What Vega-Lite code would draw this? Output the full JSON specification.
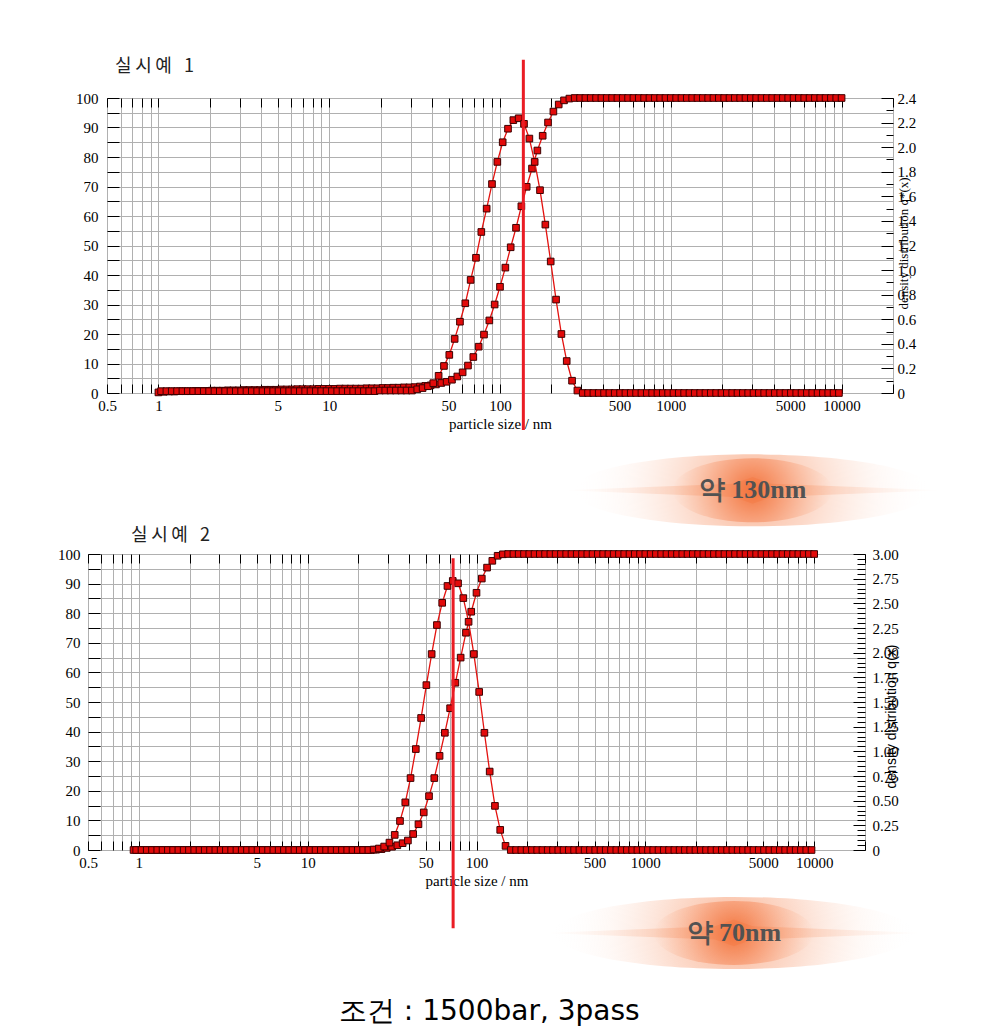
{
"$schema":"https://vega.github.io/schema/vega-lite/v6.json",
"background":"white",
"padding":{"left":55,"top":57,"right":10,"bottom":4},
"spacing":-1,
"config":{
 "view":{"stroke":"black","strokeWidth":1},
 "axis":{"labelFont":"Liberation Serif","labelFontSize":15,"labelColor":"#000","titleFont":"Liberation Serif","titleFontSize":15,"titleFontWeight":"normal","titleColor":"#000","tickColor":"#000","tickWidth":1,"gridColor":"#b0b0b0","gridOpacity":1,"gridWidth":1,"domain":false,"labelOverlap":false,"labelFlush":false,"labelBound":false}
},
"title":{"text":"조건 : 1500bar, 3pass","orient":"bottom","anchor":"middle","font":"DejaVu Sans","fontSize":28,"fontWeight":"normal","color":"#000","offset":29,"dx":-10},
"datasets":{
"c1":[{"x":1,"v":0.2},{"x":1.075,"v":0.4},{"x":1.155,"v":0.5},{"x":1.241,"v":0.5},{"x":1.334,"v":0.6},{"x":1.433,"v":0.6},{"x":1.54,"v":0.6},{"x":1.655,"v":0.7},{"x":1.778,"v":0.7},{"x":1.911,"v":0.7},{"x":2.054,"v":0.8},{"x":2.207,"v":0.8},{"x":2.371,"v":0.8},{"x":2.548,"v":0.9},{"x":2.738,"v":0.9},{"x":2.943,"v":0.9},{"x":3.162,"v":1},{"x":3.398,"v":1},{"x":3.652,"v":1},{"x":3.924,"v":1},{"x":4.217,"v":1.1},{"x":4.532,"v":1.1},{"x":4.87,"v":1.1},{"x":5.233,"v":1.2},{"x":5.623,"v":1.2},{"x":6.043,"v":1.2},{"x":6.494,"v":1.3},{"x":6.978,"v":1.3},{"x":7.499,"v":1.3},{"x":8.058,"v":1.3},{"x":8.66,"v":1.4},{"x":9.306,"v":1.4},
{"x":10,"v":1.4},{"x":10.75,"v":1.4},{"x":11.55,"v":1.5},{"x":12.41,"v":1.5},{"x":13.34,"v":1.5},{"x":14.33,"v":1.5},{"x":15.4,"v":1.5},{"x":16.55,"v":1.6},{"x":17.78,"v":1.6},{"x":19.11,"v":1.6},{"x":20.54,"v":1.7},{"x":22.07,"v":1.7},{"x":23.71,"v":1.8},{"x":25.48,"v":1.8},{"x":27.38,"v":1.9},{"x":29.43,"v":1.9},{"x":31.62,"v":2},{"x":33.98,"v":2.2},{"x":36.52,"v":2.4},{"x":39.24,"v":2.6},{"x":42.17,"v":2.9},{"x":45.32,"v":3.4},{"x":48.7,"v":3.8},{"x":52.33,"v":4.5},{"x":56.23,"v":5.6},{"x":60.43,"v":7},{"x":64.94,"v":9.3},{"x":69.78,"v":12.2},{"x":74.99,"v":15.7},{"x":80.58,"v":19.8},{"x":86.6,"v":24.6},{"x":93.06,"v":30},
{"x":100,"v":36},{"x":107.5,"v":42.5},{"x":115.5,"v":49.4},{"x":124.1,"v":56},{"x":133.4,"v":63.3},{"x":143.3,"v":69.9},{"x":154,"v":76.1},{"x":165.5,"v":82.2},{"x":177.8,"v":87.2},{"x":191.1,"v":91.7},{"x":205.4,"v":95.4},{"x":220.7,"v":97.8},{"x":237.1,"v":99.2},{"x":254.8,"v":99.8},{"x":273.8,"v":100},{"x":294.3,"v":100},{"x":316.2,"v":100},{"x":339.8,"v":100},{"x":365.2,"v":100},{"x":392.4,"v":100},{"x":421.7,"v":100},{"x":453.2,"v":100},{"x":487,"v":100},{"x":523.3,"v":100},{"x":562.3,"v":100},{"x":604.3,"v":100},{"x":649.4,"v":100},{"x":697.8,"v":100},{"x":749.9,"v":100},{"x":805.8,"v":100},{"x":866,"v":100},{"x":930.6,"v":100},
{"x":1000,"v":100},{"x":1075,"v":100},{"x":1155,"v":100},{"x":1241,"v":100},{"x":1334,"v":100},{"x":1433,"v":100},{"x":1540,"v":100},{"x":1655,"v":100},{"x":1778,"v":100},{"x":1911,"v":100},{"x":2054,"v":100},{"x":2207,"v":100},{"x":2371,"v":100},{"x":2548,"v":100},{"x":2738,"v":100},{"x":2943,"v":100},{"x":3162,"v":100},{"x":3398,"v":100},{"x":3652,"v":100},{"x":3924,"v":100},{"x":4217,"v":100},{"x":4532,"v":100},{"x":4870,"v":100},{"x":5233,"v":100},{"x":5623,"v":100},{"x":6043,"v":100},{"x":6494,"v":100},{"x":6978,"v":100},{"x":7499,"v":100},{"x":8058,"v":100},{"x":8660,"v":100},{"x":9306,"v":100},{"x":10000,"v":100}],
"d1":[{"x":1.037,"v":0.015},{"x":1.114,"v":0.015},{"x":1.197,"v":0.015},{"x":1.286,"v":0.015},{"x":1.382,"v":0.015},{"x":1.486,"v":0.015},{"x":1.596,"v":0.015},{"x":1.715,"v":0.015},{"x":1.843,"v":0.015},{"x":1.981,"v":0.015},{"x":2.129,"v":0.015},{"x":2.288,"v":0.015},{"x":2.458,"v":0.015},{"x":2.642,"v":0.015},{"x":2.839,"v":0.015},{"x":3.051,"v":0.015},{"x":3.278,"v":0.015},{"x":3.523,"v":0.015},{"x":3.786,"v":0.015},{"x":4.068,"v":0.015},{"x":4.371,"v":0.015},{"x":4.698,"v":0.015},{"x":5.048,"v":0.015},{"x":5.425,"v":0.015},{"x":5.829,"v":0.015},{"x":6.264,"v":0.015},{"x":6.732,"v":0.015},{"x":7.234,"v":0.015},{"x":7.774,"v":0.015},{"x":8.354,"v":0.015},{"x":8.977,"v":0.015},{"x":9.647,"v":0.015},
{"x":10.37,"v":0.015},{"x":11.14,"v":0.015},{"x":11.97,"v":0.015},{"x":12.86,"v":0.015},{"x":13.82,"v":0.015},{"x":14.86,"v":0.015},{"x":15.96,"v":0.015},{"x":17.15,"v":0.015},{"x":18.43,"v":0.015},{"x":19.81,"v":0.02},{"x":21.29,"v":0.02},{"x":22.88,"v":0.02},{"x":24.58,"v":0.02},{"x":26.42,"v":0.02},{"x":28.39,"v":0.02},{"x":30.51,"v":0.02},{"x":32.78,"v":0.03},{"x":35.23,"v":0.04},{"x":37.86,"v":0.055},{"x":40.68,"v":0.08},{"x":43.71,"v":0.14},{"x":46.98,"v":0.22},{"x":50.48,"v":0.31},{"x":54.25,"v":0.44},{"x":58.29,"v":0.58},{"x":62.64,"v":0.73},{"x":67.32,"v":0.92},{"x":72.34,"v":1.1},{"x":77.74,"v":1.31},{"x":83.54,"v":1.5},{"x":89.77,"v":1.7},{"x":96.47,"v":1.88},
{"x":103.7,"v":2.04},{"x":111.4,"v":2.15},{"x":119.7,"v":2.22},{"x":128.6,"v":2.235},{"x":138.2,"v":2.19},{"x":148.6,"v":2.07},{"x":159.6,"v":1.88},{"x":171.5,"v":1.65},{"x":184.3,"v":1.37},{"x":198.1,"v":1.07},{"x":212.9,"v":0.76},{"x":228.8,"v":0.48},{"x":245.8,"v":0.26},{"x":264.2,"v":0.1},{"x":283.9,"v":0.02},{"x":305.1,"v":0},{"x":327.8,"v":0},{"x":352.3,"v":0},{"x":378.6,"v":0},{"x":406.8,"v":0},{"x":437.1,"v":0},{"x":469.8,"v":0},{"x":504.8,"v":0},{"x":542.5,"v":0},{"x":582.9,"v":0},{"x":626.4,"v":0},{"x":673.2,"v":0},{"x":723.4,"v":0},{"x":777.4,"v":0},{"x":835.4,"v":0},{"x":897.7,"v":0},{"x":964.7,"v":0},
{"x":1037,"v":0},{"x":1114,"v":0},{"x":1197,"v":0},{"x":1286,"v":0},{"x":1382,"v":0},{"x":1486,"v":0},{"x":1596,"v":0},{"x":1715,"v":0},{"x":1843,"v":0},{"x":1981,"v":0},{"x":2129,"v":0},{"x":2288,"v":0},{"x":2458,"v":0},{"x":2642,"v":0},{"x":2839,"v":0},{"x":3051,"v":0},{"x":3278,"v":0},{"x":3523,"v":0},{"x":3786,"v":0},{"x":4068,"v":0},{"x":4371,"v":0},{"x":4698,"v":0},{"x":5048,"v":0},{"x":5425,"v":0},{"x":5829,"v":0},{"x":6264,"v":0},{"x":6732,"v":0},{"x":7234,"v":0},{"x":7774,"v":0},{"x":8354,"v":0},{"x":8977,"v":0},{"x":9647,"v":0}],
"c2":[{"x":0.9306,"v":0},{"x":1,"v":0},{"x":1.075,"v":0},{"x":1.155,"v":0},{"x":1.241,"v":0},{"x":1.334,"v":0},{"x":1.433,"v":0},{"x":1.54,"v":0},{"x":1.655,"v":0},{"x":1.778,"v":0},{"x":1.911,"v":0},{"x":2.054,"v":0},{"x":2.207,"v":0},{"x":2.371,"v":0},{"x":2.548,"v":0},{"x":2.738,"v":0},{"x":2.943,"v":0},{"x":3.162,"v":0},{"x":3.398,"v":0},{"x":3.652,"v":0},{"x":3.924,"v":0},{"x":4.217,"v":0},{"x":4.532,"v":0},{"x":4.87,"v":0},{"x":5.233,"v":0},{"x":5.623,"v":0},{"x":6.043,"v":0},{"x":6.494,"v":0},{"x":6.978,"v":0},{"x":7.499,"v":0},{"x":8.058,"v":0},{"x":8.66,"v":0},{"x":9.306,"v":0},
{"x":10,"v":0},{"x":10.75,"v":0},{"x":11.55,"v":0},{"x":12.41,"v":0},{"x":13.34,"v":0},{"x":14.33,"v":0},{"x":15.4,"v":0},{"x":16.55,"v":0},{"x":17.78,"v":0},{"x":19.11,"v":0},{"x":20.54,"v":0},{"x":22.07,"v":0},{"x":23.71,"v":0},{"x":25.48,"v":0.1},{"x":27.38,"v":0.3},{"x":29.43,"v":0.7},{"x":31.62,"v":1.1},{"x":33.98,"v":1.6},{"x":36.52,"v":2.3},{"x":39.24,"v":3.2},{"x":42.17,"v":5.4},{"x":45.32,"v":8.7},{"x":48.7,"v":12.7},{"x":52.33,"v":18.2},{"x":56.23,"v":24.3},{"x":60.43,"v":31.8},{"x":64.94,"v":39.6},{"x":69.78,"v":47.9},{"x":74.99,"v":56.5},{"x":80.58,"v":65},{"x":86.6,"v":73.4},{"x":93.06,"v":80.5},
{"x":100,"v":86.9},{"x":107.5,"v":91.7},{"x":115.5,"v":95.4},{"x":124.1,"v":97.7},{"x":133.4,"v":99.4},{"x":143.3,"v":99.9},{"x":154,"v":100},{"x":165.5,"v":100},{"x":177.8,"v":100},{"x":191.1,"v":100},{"x":205.4,"v":100},{"x":220.7,"v":100},{"x":237.1,"v":100},{"x":254.8,"v":100},{"x":273.8,"v":100},{"x":294.3,"v":100},{"x":316.2,"v":100},{"x":339.8,"v":100},{"x":365.2,"v":100},{"x":392.4,"v":100},{"x":421.7,"v":100},{"x":453.2,"v":100},{"x":487,"v":100},{"x":523.3,"v":100},{"x":562.3,"v":100},{"x":604.3,"v":100},{"x":649.4,"v":100},{"x":697.8,"v":100},{"x":749.9,"v":100},{"x":805.8,"v":100},{"x":866,"v":100},{"x":930.6,"v":100},
{"x":1000,"v":100},{"x":1075,"v":100},{"x":1155,"v":100},{"x":1241,"v":100},{"x":1334,"v":100},{"x":1433,"v":100},{"x":1540,"v":100},{"x":1655,"v":100},{"x":1778,"v":100},{"x":1911,"v":100},{"x":2054,"v":100},{"x":2207,"v":100},{"x":2371,"v":100},{"x":2548,"v":100},{"x":2738,"v":100},{"x":2943,"v":100},{"x":3162,"v":100},{"x":3398,"v":100},{"x":3652,"v":100},{"x":3924,"v":100},{"x":4217,"v":100},{"x":4532,"v":100},{"x":4870,"v":100},{"x":5233,"v":100},{"x":5623,"v":100},{"x":6043,"v":100},{"x":6494,"v":100},{"x":6978,"v":100},{"x":7499,"v":100},{"x":8058,"v":100},{"x":8660,"v":100},{"x":9306,"v":100},{"x":10000,"v":100}],
"d2":[{"x":0.9647,"v":0},{"x":1.037,"v":0},{"x":1.114,"v":0},{"x":1.197,"v":0},{"x":1.286,"v":0},{"x":1.382,"v":0},{"x":1.486,"v":0},{"x":1.596,"v":0},{"x":1.715,"v":0},{"x":1.843,"v":0},{"x":1.981,"v":0},{"x":2.129,"v":0},{"x":2.288,"v":0},{"x":2.458,"v":0},{"x":2.642,"v":0},{"x":2.839,"v":0},{"x":3.051,"v":0},{"x":3.278,"v":0},{"x":3.523,"v":0},{"x":3.786,"v":0},{"x":4.068,"v":0},{"x":4.371,"v":0},{"x":4.698,"v":0},{"x":5.048,"v":0},{"x":5.425,"v":0},{"x":5.829,"v":0},{"x":6.264,"v":0},{"x":6.732,"v":0},{"x":7.234,"v":0},{"x":7.774,"v":0},{"x":8.354,"v":0},{"x":8.977,"v":0},{"x":9.647,"v":0},
{"x":10.37,"v":0},{"x":11.14,"v":0},{"x":11.97,"v":0},{"x":12.86,"v":0},{"x":13.82,"v":0},{"x":14.86,"v":0},{"x":15.96,"v":0},{"x":17.15,"v":0},{"x":18.43,"v":0},{"x":19.81,"v":0},{"x":21.29,"v":0},{"x":22.88,"v":0},{"x":24.58,"v":0.005},{"x":26.42,"v":0.015},{"x":28.39,"v":0.035},{"x":30.51,"v":0.075},{"x":32.78,"v":0.153},{"x":35.23,"v":0.294},{"x":37.86,"v":0.483},{"x":40.68,"v":0.729},{"x":43.71,"v":1.023},{"x":46.98,"v":1.338},{"x":50.48,"v":1.671},{"x":54.25,"v":1.986},{"x":58.29,"v":2.28},{"x":62.64,"v":2.505},{"x":67.32,"v":2.676},{"x":72.34,"v":2.727},{"x":77.74,"v":2.703},{"x":83.54,"v":2.553},{"x":89.77,"v":2.313},{"x":96.47,"v":1.986},
{"x":103.7,"v":1.602},{"x":111.4,"v":1.188},{"x":119.7,"v":0.795},{"x":128.6,"v":0.447},{"x":138.2,"v":0.204},{"x":148.6,"v":0.042},{"x":159.6,"v":0},{"x":171.5,"v":0},{"x":184.3,"v":0},{"x":198.1,"v":0},{"x":212.9,"v":0},{"x":228.8,"v":0},{"x":245.8,"v":0},{"x":264.2,"v":0},{"x":283.9,"v":0},{"x":305.1,"v":0},{"x":327.8,"v":0},{"x":352.3,"v":0},{"x":378.6,"v":0},{"x":406.8,"v":0},{"x":437.1,"v":0},{"x":469.8,"v":0},{"x":504.8,"v":0},{"x":542.5,"v":0},{"x":582.9,"v":0},{"x":626.4,"v":0},{"x":673.2,"v":0},{"x":723.4,"v":0},{"x":777.4,"v":0},{"x":835.4,"v":0},{"x":897.7,"v":0},{"x":964.7,"v":0},
{"x":1037,"v":0},{"x":1114,"v":0},{"x":1197,"v":0},{"x":1286,"v":0},{"x":1382,"v":0},{"x":1486,"v":0},{"x":1596,"v":0},{"x":1715,"v":0},{"x":1843,"v":0},{"x":1981,"v":0},{"x":2129,"v":0},{"x":2288,"v":0},{"x":2458,"v":0},{"x":2642,"v":0},{"x":2839,"v":0},{"x":3051,"v":0},{"x":3278,"v":0},{"x":3523,"v":0},{"x":3786,"v":0},{"x":4068,"v":0},{"x":4371,"v":0},{"x":4698,"v":0},{"x":5048,"v":0},{"x":5425,"v":0},{"x":5829,"v":0},{"x":6264,"v":0},{"x":6732,"v":0},{"x":7234,"v":0},{"x":7774,"v":0},{"x":8354,"v":0},{"x":8977,"v":0},{"x":9647,"v":0}]
},
"vconcat":[
{"spacing":-15,"hconcat":[
{"width":1,"height":1,"view":{"stroke":null},"data":{"values":[{}]},"mark":{"type":"point","opacity":0,"size":1}},
{
 "width":786,"height":295,
 "title":{"text":"실\u2009시\u2009예\u00a0\u00a0\u00a01","anchor":"start","frame":"group","dx":8,"offset":-18,"font":"Noto Sans CJK KR","fontSize":18,"fontWeight":"normal","color":"#222"},
 "layer":[
  {
   "encoding":{
    "x":{"field":"x","type":"quantitative","scale":{"type":"log","domain":[0.5,20000],"nice":false},
      "axis":{"orient":"bottom","values":[0.5,0.6,0.7,0.8,0.9,1,2,3,4,5,6,7,8,9,10,20,30,40,50,60,70,80,90,100,200,300,400,500,600,700,800,900,1000,2000,3000,4000,5000,6000,7000,8000,9000,10000,20000],"labelExpr":"indexof([0.5,1,5,10,50,100,500,1000,5000,10000], datum.value) >= 0 ? '' + datum.value : ''","tickSize":-9,"labelPadding":14,"grid":true,"title":"particle size / nm","titlePadding":3}},
    "y":{"field":"v","type":"quantitative","scale":{"domain":[0,100],"nice":false},
      "axis":{"orient":"left","values":[0,5,10,15,20,25,30,35,40,45,50,55,60,65,70,75,80,85,90,95,100],"labelExpr":"datum.value % 10 == 0 ? '' + datum.value : ''","tickSize":-12,"labelPadding":21,"grid":true,"title":null,"minExtent":32}}
   },
   "layer":[
    {"data":{"name":"c1"},"mark":{"type":"line","color":"#e3120f","strokeWidth":1.3}},
    {"data":{"name":"c1"},"mark":{"type":"point","shape":"square","filled":true,"size":44,"fill":"#e20a0a","stroke":"#3c0000","strokeWidth":1,"opacity":1}}
   ]
  },
  {
   "encoding":{
    "x":{"field":"x","type":"quantitative","scale":{"type":"log","domain":[0.5,20000],"nice":false},
      "axis":{"orient":"top","values":[0.5,0.6,0.7,0.8,0.9,1,2,3,4,5,6,7,8,9,10,20,30,40,50,60,70,80,90,100,200,300,400,500,600,700,800,900,1000,2000,3000,4000,5000,6000,7000,8000,9000,10000,20000],"labels":false,"tickSize":-9,"grid":false,"title":null}},
    "y":{"field":"v","type":"quantitative","scale":{"domain":[0,2.4],"nice":false},
      "axis":{"orient":"right","values":[0,0.1,0.2,0.3,0.4,0.5,0.6,0.7,0.8,0.9,1,1.1,1.2,1.3,1.4,1.5,1.6,1.7,1.8,1.9,2,2.1,2.2,2.3,2.4],"labelExpr":"datum.value == 0 ? '0' : (round(datum.value*10) % 2 == 0 ? format(datum.value, '.1f') : '')","tickSize":{"condition":{"test":"round(datum.value*10) % 2 == 0","value":-12},"value":-7},"labelPadding":16,"grid":false,"title":"density distribution q*(x)","titleAngle":270,"titleX":10,"titleY":145,"titleAlign":"center","titleBaseline":"middle","titleFontSize":13}}
   },
   "layer":[
    {"data":{"name":"d1"},"mark":{"type":"line","color":"#e3120f","strokeWidth":1.3}},
    {"data":{"name":"d1"},"mark":{"type":"point","shape":"square","filled":true,"size":44,"fill":"#e20a0a","stroke":"#3c0000","strokeWidth":1,"opacity":1}}
   ]
  },
  {
   "layer":[
    {"data":{"values":[{}]},"mark":{"type":"point","shape":"M-1,0A1,0.2,0,1,0,1,0A1,0.2,0,1,0,-1,0Z","size":129600,"filled":true,"strokeWidth":0,"opacity":1,"fill":{"gradient":"radial","stops":[{"offset":0,"color":"rgba(245,125,70,0.6)"},{"offset":0.35,"color":"rgba(248,160,120,0.38)"},{"offset":0.7,"color":"rgba(252,210,190,0.14)"},{"offset":1,"color":"rgba(255,255,255,0)"}]}},"encoding":{"x":{"datum":3013,"type":"quantitative","axis":null},"y":{"datum":-33,"type":"quantitative","scale":{"domain":[0,100],"nice":false},"axis":null}}},
    {"data":{"values":[{}]},"mark":{"type":"point","shape":"M-1,0L-0.1,-0.035L0,-0.07L0.1,-0.035L1,0L0.1,0.035L0,0.07L-0.1,0.035Z","size":144400,"filled":true,"strokeWidth":0,"opacity":1,"fill":{"gradient":"radial","stops":[{"offset":0,"color":"rgba(244,125,70,0.45)"},{"offset":1,"color":"rgba(250,200,175,0)"}]}},"encoding":{"x":{"datum":3013,"type":"quantitative","axis":null},"y":{"datum":-33,"type":"quantitative","axis":null}}},
    {"data":{"values":[{}]},"mark":{"type":"point","shape":"M-1,0A1,0.4,0,1,0,1,0A1,0.4,0,1,0,-1,0Z","size":25600,"filled":true,"strokeWidth":0,"opacity":1,"fill":{"gradient":"radial","stops":[{"offset":0,"color":"rgba(242,108,50,0.85)"},{"offset":0.45,"color":"rgba(245,130,80,0.45)"},{"offset":1,"color":"rgba(250,170,130,0)"}]}},"encoding":{"x":{"datum":3013,"type":"quantitative","axis":null},"y":{"datum":-33,"type":"quantitative","axis":null}}},
    {"data":{"values":[{}]},"mark":{"type":"text","text":"약 130nm","font":"Liberation Serif","fontSize":26,"fontWeight":"bold","color":"#525252","align":"center","baseline":"middle"},"encoding":{"x":{"datum":3013,"type":"quantitative","axis":null},"y":{"datum":-33,"type":"quantitative","axis":null}}},
    {"data":{"values":[{}]},"mark":{"type":"rule","color":"#ea1c24","strokeWidth":3},"encoding":{"x":{"datum":137,"type":"quantitative","axis":null},"y":{"datum":113,"type":"quantitative","axis":null},"y2":{"datum":-12.5}}}
   ]
  }
 ],
 "resolve":{"scale":{"y":"independent"},"axis":{"x":"independent"}}
}
]},
{"hconcat":[
{
 "width":777,"height":296,
 "title":{"text":"실\u2009시\u2009예\u00a0\u00a0\u00a02","anchor":"start","frame":"group","dx":43,"offset":2,"font":"Noto Sans CJK KR","fontSize":18,"fontWeight":"normal","color":"#222"},
 "layer":[
  {
   "encoding":{
    "x":{"field":"x","type":"quantitative","scale":{"type":"log","domain":[0.5,20000],"nice":false},
      "axis":{"orient":"bottom","values":[0.5,0.6,0.7,0.8,0.9,1,2,3,4,5,6,7,8,9,10,20,30,40,50,60,70,80,90,100,200,300,400,500,600,700,800,900,1000,2000,3000,4000,5000,6000,7000,8000,9000,10000,20000],"labelExpr":"indexof([0.5,1,5,10,50,100,500,1000,5000,10000], datum.value) >= 0 ? '' + datum.value : ''","tickSize":-9,"labelPadding":14,"grid":true,"title":"particle size / nm","titlePadding":3}},
    "y":{"field":"v","type":"quantitative","scale":{"domain":[0,100],"nice":false},
      "axis":{"orient":"left","values":[0,5,10,15,20,25,30,35,40,45,50,55,60,65,70,75,80,85,90,95,100],"labelExpr":"datum.value % 10 == 0 ? '' + datum.value : ''","tickSize":-12,"labelPadding":20,"grid":true,"title":null,"minExtent":32}}
   },
   "layer":[
    {"data":{"name":"c2"},"mark":{"type":"line","color":"#e3120f","strokeWidth":1.3}},
    {"data":{"name":"c2"},"mark":{"type":"point","shape":"square","filled":true,"size":44,"fill":"#e20a0a","stroke":"#3c0000","strokeWidth":1,"opacity":1}}
   ]
  },
  {
   "encoding":{
    "x":{"field":"x","type":"quantitative","scale":{"type":"log","domain":[0.5,20000],"nice":false},
      "axis":{"orient":"top","values":[0.5,0.6,0.7,0.8,0.9,1,2,3,4,5,6,7,8,9,10,20,30,40,50,60,70,80,90,100,200,300,400,500,600,700,800,900,1000,2000,3000,4000,5000,6000,7000,8000,9000,10000,20000],"labels":false,"tickSize":-9,"grid":false,"title":null}},
    "y":{"field":"v","type":"quantitative","scale":{"domain":[0,3],"nice":false},
      "axis":{"orient":"right","values":[0,0.05,0.1,0.15,0.2,0.25,0.3,0.35,0.4,0.45,0.5,0.55,0.6,0.65,0.7,0.75,0.8,0.85,0.9,0.95,1,1.05,1.1,1.15,1.2,1.25,1.3,1.35,1.4,1.45,1.5,1.55,1.6,1.65,1.7,1.75,1.8,1.85,1.9,1.95,2,2.05,2.1,2.15,2.2,2.25,2.3,2.35,2.4,2.45,2.5,2.55,2.6,2.65,2.7,2.75,2.8,2.85,2.9,2.95,3],"labelExpr":"datum.value == 0 ? '0' : (round(datum.value*100) % 25 == 0 ? format(datum.value, '.2f') : '')","tickSize":{"condition":{"test":"round(datum.value*100) % 25 == 0","value":-12},"value":-8},"labelPadding":19,"grid":false,"title":"density distribution q(x)","titleFont":"Liberation Sans","titleAngle":270,"titleX":26,"titleY":162,"titleAlign":"center","titleBaseline":"middle","titleFontSize":14}}
   },
   "layer":[
    {"data":{"name":"d2"},"mark":{"type":"line","color":"#e3120f","strokeWidth":1.3}},
    {"data":{"name":"d2"},"mark":{"type":"point","shape":"square","filled":true,"size":44,"fill":"#e20a0a","stroke":"#3c0000","strokeWidth":1,"opacity":1}}
   ]
  },
  {
   "layer":[
    {"data":{"values":[{}]},"mark":{"type":"point","shape":"M-1,0A1,0.2,0,1,0,1,0A1,0.2,0,1,0,-1,0Z","size":129600,"filled":true,"strokeWidth":0,"opacity":1,"fill":{"gradient":"radial","stops":[{"offset":0,"color":"rgba(245,125,70,0.6)"},{"offset":0.35,"color":"rgba(248,160,120,0.38)"},{"offset":0.7,"color":"rgba(252,210,190,0.14)"},{"offset":1,"color":"rgba(255,255,255,0)"}]}},"encoding":{"x":{"datum":3343,"type":"quantitative","axis":null},"y":{"datum":-28,"type":"quantitative","scale":{"domain":[0,100],"nice":false},"axis":null}}},
    {"data":{"values":[{}]},"mark":{"type":"point","shape":"M-1,0L-0.1,-0.035L0,-0.07L0.1,-0.035L1,0L0.1,0.035L0,0.07L-0.1,0.035Z","size":144400,"filled":true,"strokeWidth":0,"opacity":1,"fill":{"gradient":"radial","stops":[{"offset":0,"color":"rgba(244,125,70,0.45)"},{"offset":1,"color":"rgba(250,200,175,0)"}]}},"encoding":{"x":{"datum":3343,"type":"quantitative","axis":null},"y":{"datum":-28,"type":"quantitative","axis":null}}},
    {"data":{"values":[{}]},"mark":{"type":"point","shape":"M-1,0A1,0.4,0,1,0,1,0A1,0.4,0,1,0,-1,0Z","size":25600,"filled":true,"strokeWidth":0,"opacity":1,"fill":{"gradient":"radial","stops":[{"offset":0,"color":"rgba(242,108,50,0.85)"},{"offset":0.45,"color":"rgba(245,130,80,0.45)"},{"offset":1,"color":"rgba(250,170,130,0)"}]}},"encoding":{"x":{"datum":3343,"type":"quantitative","axis":null},"y":{"datum":-28,"type":"quantitative","axis":null}}},
    {"data":{"values":[{}]},"mark":{"type":"text","text":"약 70nm","font":"Liberation Serif","fontSize":26,"fontWeight":"bold","color":"#525252","align":"center","baseline":"middle"},"encoding":{"x":{"datum":3343,"type":"quantitative","axis":null},"y":{"datum":-28,"type":"quantitative","axis":null}}},
    {"data":{"values":[{}]},"mark":{"type":"rule","color":"#ea1c24","strokeWidth":3},"encoding":{"x":{"datum":72.7,"type":"quantitative","axis":null},"y":{"datum":98.6,"type":"quantitative","axis":null},"y2":{"datum":-26.4}}}
   ]
  }
 ],
 "resolve":{"scale":{"y":"independent"},"axis":{"x":"independent"}}
}
]}
]
}
